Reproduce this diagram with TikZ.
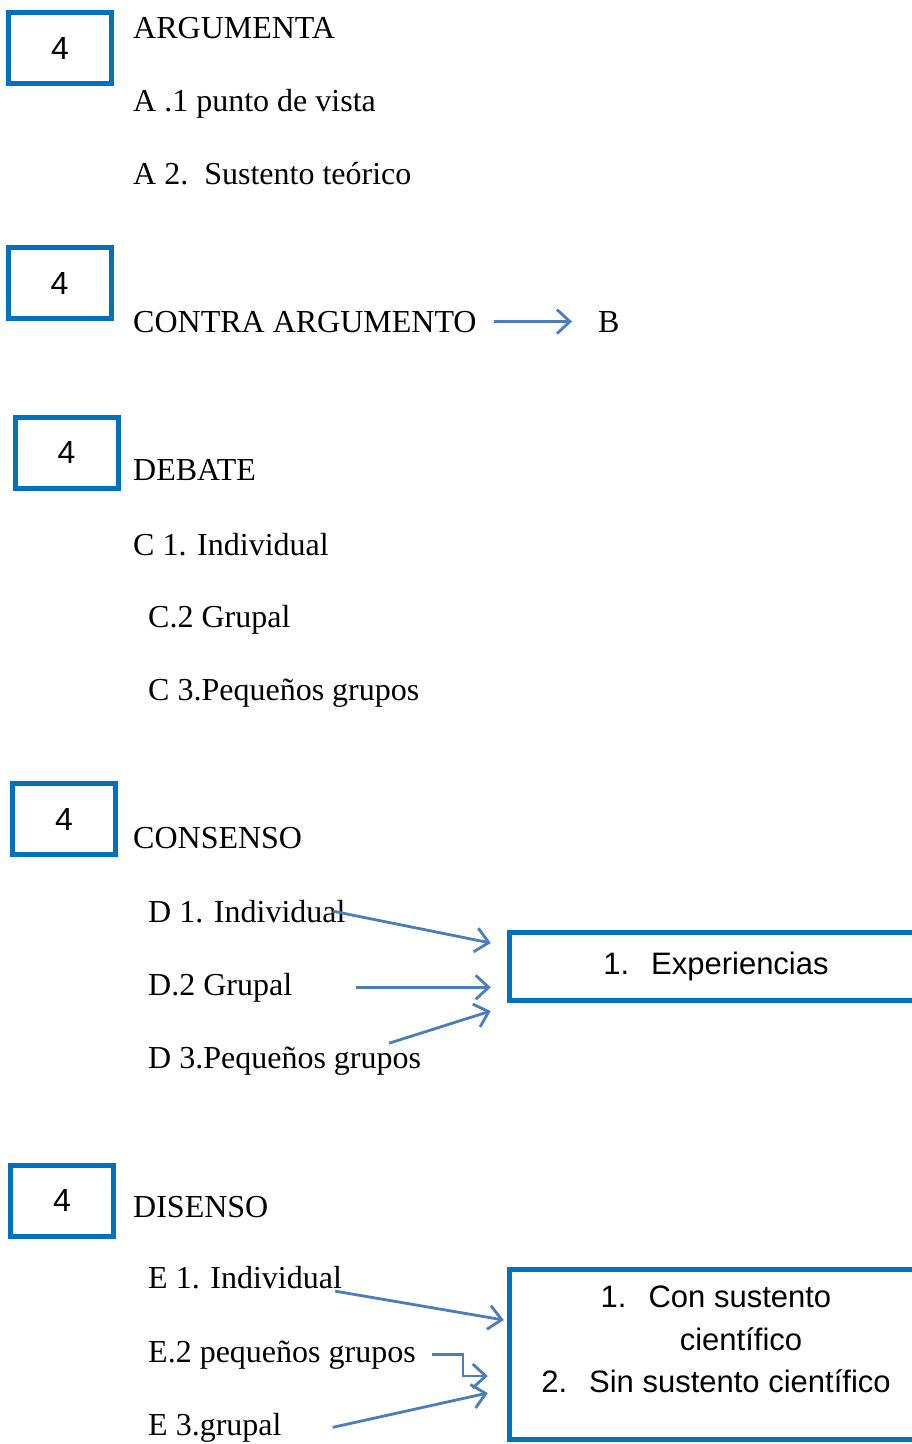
\documentclass[tikz,border=0pt]{standalone}
\usepackage{fontspec}
\setmainfont{Liberation Serif}
\newfontfamily\arialfont{Liberation Sans}
\usetikzlibrary{arrows.meta}
\definecolor{boxblue}{HTML}{0070C0}
\definecolor{arrowblue}{HTML}{4A7EBB}

\begin{document}
\begin{tikzpicture}[x=1pt,y=-1pt,
    numbox/.style={draw=boxblue,line width=5pt,minimum width=103pt,minimum height=71pt,inner sep=0pt,font=\arialfont\fontsize{32}{38}\selectfont},
    word/.style={anchor=base west,inner sep=0pt,font=\fontsize{32}{38}\selectfont},
    listbox/.style={draw=boxblue,line width=5.5pt,minimum width=413pt,inner sep=0pt,font=\arialfont\fontsize{31}{42.5}\selectfont},
    arr/.style={draw=arrowblue,line width=2.8pt,-{Straight Barb[length=13pt,width=24pt]}}]
    \clip (0,0) rectangle (912,1444);
    \node[numbox] (n1) at (60,48) {4};
    \node[numbox] (n2) at (59.5,283) {4};
    \node[numbox] (n3) at (66.5,452.5) {4};
    \node[numbox] (n4) at (64,819) {4};
    \node[numbox] (n5) at (62,1200.5) {4};
    \node[word] (arg) at (133,38) {ARGUMENTA};
    \node[word] (a1) at (133,111) {A .1 punto de vista};
    \node[word] (a2) at (133,184) {A 2.\ \ Sustento teórico};
    \node[word] (ca) at (133,332) {CONTRA ARGUMENTO};
    \node[word] (b) at (598,332) {B};
    \node[word] (deb) at (133,480) {DEBATE};
    \node[word] (c1) at (133,555) {C 1. Individual};
    \node[word] (c2) at (148,627) {C.2 Grupal};
    \node[word] (c3) at (148,700) {C 3.Pequeños grupos};
    \node[word] (con) at (133,848) {CONSENSO};
    \node[word] (d1) at (148,922) {D 1. Individual};
    \node[word] (d2) at (148,995) {D.2 Grupal};
    \node[word] (d3) at (148,1068) {D 3.Pequeños grupos};
    \node[word] (dis) at (133,1217) {DISENSO};
    \node[word] (e1) at (148,1288) {E 1. Individual};
    \node[word] (e2) at (148,1362) {E.2 pequeños grupos};
    \node[word] (e3) at (148,1435) {E 3.grupal};
    \node[listbox,minimum height=68pt] (exp) at (716,966.5) {1.\hspace{22pt}Experiencias};
    \node[listbox,minimum height=170pt] (sust) at (716,1354.5) {};
    \node[anchor=north,inner sep=0pt,align=center,font=\arialfont\fontsize{31}{42.5}\selectfont] (lst) at (716,1286)
        {1.\hspace{22pt}Con sustento\\ \hspace*{50pt}científico\\ 2.\hspace{22pt}Sin sustento científico};
    \draw[arr,shorten <=17pt,shorten >=26pt] (ca) -- (b);
    \draw[arr] ([xshift=-13pt]d1.east) -- ([xshift=-16pt,yshift=23.5pt]exp.west);
    \draw[arr] ([xshift=64pt]d2.east) -- ([xshift=-16pt]exp.west |- d2.east);
    \draw[arr] ([xshift=241pt,yshift=3pt]d3.north west) -- ([xshift=-16pt,yshift=-44.5pt]exp.west);
    \draw[arr] ([xshift=-7pt,yshift=-14pt]e1.east) -- ([xshift=-3pt,yshift=34.5pt]sust.west);
    \draw[arr] ([xshift=16pt]e2.east) -- ++(31,0) |- ([xshift=-19pt,yshift=-21.5pt]sust.west);
    \draw[arr] ([xshift=51pt]e3.east) -- ([xshift=-19pt,yshift=-38.5pt]sust.west);
\end{tikzpicture}
\end{document}
